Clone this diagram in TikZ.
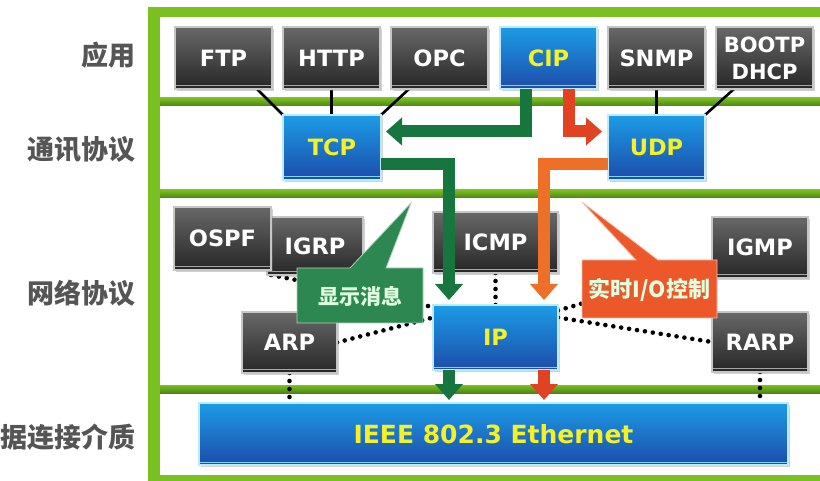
\documentclass[tikz,border=0pt]{standalone}
\usepackage{fontspec}
\setmainfont{DejaVu Sans}
\newfontfamily\cjk{Noto Sans CJK SC}
\usetikzlibrary{arrows.meta,shadows,calc}
\pgfdeclarelayer{framelayer}
\pgfdeclarelayer{linelayer}
\pgfsetlayers{framelayer,linelayer,main}
\definecolor{frameG}{RGB}{122,192,32}
\definecolor{frameD}{RGB}{78,132,20}
\definecolor{arrG}{RGB}{22,118,62}
\definecolor{arrO}{RGB}{238,112,40}
\definecolor{arrR}{RGB}{224,66,34}
\definecolor{boxTop}{RGB}{104,104,104}
\definecolor{boxBot}{RGB}{38,38,38}
\definecolor{bluTop}{RGB}{28,156,230}
\definecolor{bluBot}{RGB}{28,76,170}
\definecolor{yel}{RGB}{245,240,40}
\definecolor{labG}{RGB}{85,85,85}
\definecolor{callG}{RGB}{45,135,80}
\definecolor{callR}{RGB}{236,88,42}
\newcommand\boxfont{\bfseries\fontsize{22.5}{27}\selectfont}
\begin{document}
\begin{tikzpicture}[x=1pt,y=-1pt,
  basebox/.style={minimum width=97pt, minimum height=62pt, inner sep=0pt, outer sep=0pt,
    line width=1.2pt, align=center, font=\boxfont,
    drop shadow={shadow xshift=2pt, shadow yshift=-2pt, opacity=0.35}},
  dbox/.style={basebox, draw=gray!45, top color=boxTop, bottom color=boxBot, text=white,
    path picture={\draw[gray!70, line width=1pt] ([yshift=3.5pt]path picture bounding box.south west) -- ([yshift=3.5pt]path picture bounding box.south east);}},
  bbox/.style={basebox, draw=cyan!25!white, top color=bluTop, bottom color=bluBot, text=yel,
    path picture={\draw[cyan!50!white, line width=1pt] ([yshift=3pt]path picture bounding box.south west) -- ([yshift=3pt]path picture bounding box.south east);}},
  lab/.style={anchor=east, inner sep=0pt, text=labG, font=\cjk\bfseries\fontsize{27}{30}\selectfont},
  ctext/.style={inner sep=0pt, text=white!88!green, font=\cjk\bfseries\fontsize{21}{24}\selectfont},
  fat/.style={line width=12pt, -{Triangle[width=27pt,length=16pt]}},
  dotline/.style={line width=4.6pt, dash pattern=on 0pt off 8pt, line cap=round, black},
  conn/.style={line width=2.6pt, black}
]
\useasboundingbox (0,0) rectangle (820,481);

% layer labels
\node[lab] (l1) at (136,55) {应用};
\node[lab] (l2) at (136,149) {通讯协议};
\node[lab] (l3) at (136,293) {网络协议};
\node[lab] (l4) at (136,437) {数据连接介质};

% application layer
\node[dbox] (FTP) at (223.5,58) {FTP};
\node[dbox] (HTTP) at (331.5,58) {HTTP};
\node[dbox] (OPC) at (439.5,58) {OPC};
\node[bbox] (CIP) at (548.5,58) {CIP};
\node[dbox] (SNMP) at (656.5,58) {SNMP};
\node[dbox, font=\bfseries\fontsize{21}{27}\selectfont] (BOOTP) at (764.5,58) {BOOTP\\DHCP};

% transport layer
\node[bbox, minimum width=98pt, minimum height=65pt] (TCP) at (332,147.5) {TCP};
\node[bbox, minimum width=97pt, minimum height=65pt] (UDP) at (656.5,147.5) {UDP};

% network layer
\node[dbox, minimum width=96pt, minimum height=58pt] (IGRP) at (315,246) {IGRP};
\node[dbox, minimum width=97pt, minimum height=63pt] (OSPF) at (222.5,238.5) {OSPF};
\node[dbox, minimum width=125pt, minimum height=61pt] (ICMP) at (495.5,242.5) {ICMP};
\node[dbox, minimum width=96pt, minimum height=61pt] (IGMP) at (760,247.5) {IGMP};
\node[dbox, minimum width=95pt, minimum height=61pt] (ARP) at (289.5,342.5) {ARP};
\node[bbox, minimum width=125pt, minimum height=65pt] (IP) at (495.5,337.5) {IP};
\node[dbox, minimum width=96pt, minimum height=60pt] (RARP) at (760,342) {RARP};

% link layer
\node[bbox, minimum width=589pt, minimum height=62pt, font=\bfseries\fontsize{25}{28}\selectfont] (ETH) at (493.5,434) {IEEE 802.3 Ethernet};

% frame
\begin{pgfonlayer}{framelayer}
\fill[white] (0,0) rectangle (820,481);
\fill[frameG] (148,7) rectangle (820,17);
\fill[frameG] (148,7) rectangle (160,481);
\shade[top color=frameG, bottom color=frameD] (160,98) rectangle (820,106);
\shade[top color=frameG, bottom color=frameD] (160,190) rectangle (820,198);
\shade[top color=frameG, bottom color=frameD] (160,385) rectangle (820,393);
\fill[frameG] (160,475) rectangle (820,481);
\end{pgfonlayer}

% connectors
\begin{pgfonlayer}{linelayer}
\draw[conn] ([xshift=-15pt]FTP.south east) -- (TCP.north west);
\draw[conn] (HTTP.south) -- (HTTP.south |- TCP.north);
\draw[conn] ([xshift=18pt]OPC.south west) -- (TCP.north east);
\draw[conn] (SNMP.south) -- (UDP.north);
\draw[conn] ([xshift=18pt]BOOTP.south west) -- (UDP.north east);
\draw[dotline] (ARP.south) -- (ARP.south |- ETH.north);
\draw[dotline] (RARP.south) -- (RARP.south |- ETH.north);
\draw[dotline] (ICMP.south) -- (IP.north);
\draw[dotline] (ARP.east) -- ([yshift=20pt]IP.west);
\draw[dotline] ([xshift=4pt]IGRP.south west) -- ([yshift=-2pt]IP.north west);
\draw[dotline] ([yshift=20pt]IP.east) -- (RARP.west);
\draw[dotline] ([yshift=27pt]IP.east) -- ([yshift=-18pt]IGMP.west);
\end{pgfonlayer}

% thick arrows
\draw[fat, arrG] ([xshift=-22.5pt]CIP.south) |- ([xshift=5pt,yshift=16pt]TCP.east);
\draw[fat, arrR] ([xshift=20.5pt]CIP.south) |- ([xshift=-6pt,yshift=16pt]UDP.west);
\draw[fat, arrG] ([yshift=-16.5pt]TCP.east) -| ([xshift=-46.5pt,yshift=5pt]IP.north);
\draw[fat, arrO] ([yshift=-16.5pt]UDP.west) -| ([xshift=48.5pt,yshift=5pt]IP.north);
\coordinate (g1) at ([xshift=-46.5pt]IP.south);
\coordinate (r1) at ([xshift=48.5pt]IP.south);
\draw[fat, arrG, shorten >=3pt] (g1) -- (g1 |- ETH.north);
\draw[fat, arrR, shorten >=3pt] (r1) -- (r1 |- ETH.north);

% callouts
\fill[callG, draw=white!60!callG, line width=0.8pt] (297,268) -- (350,268) -- (411,203) -- (386,268) -- (423,268) -- (423,323) -- (297,323) -- cycle;
\node[ctext] (msg) at (360,296) {显示消息};
\fill[callR, draw=white!60!callR, line width=0.8pt] (582,260) -- (636,260) -- (582,202) -- (658,260) -- (717,260) -- (717,318) -- (582,318) -- cycle;
\node[ctext, font=\cjk\bfseries\fontsize{22}{24}\selectfont] (rt) at (649.5,290) {实时I/O控制};
\end{tikzpicture}
\end{document}
